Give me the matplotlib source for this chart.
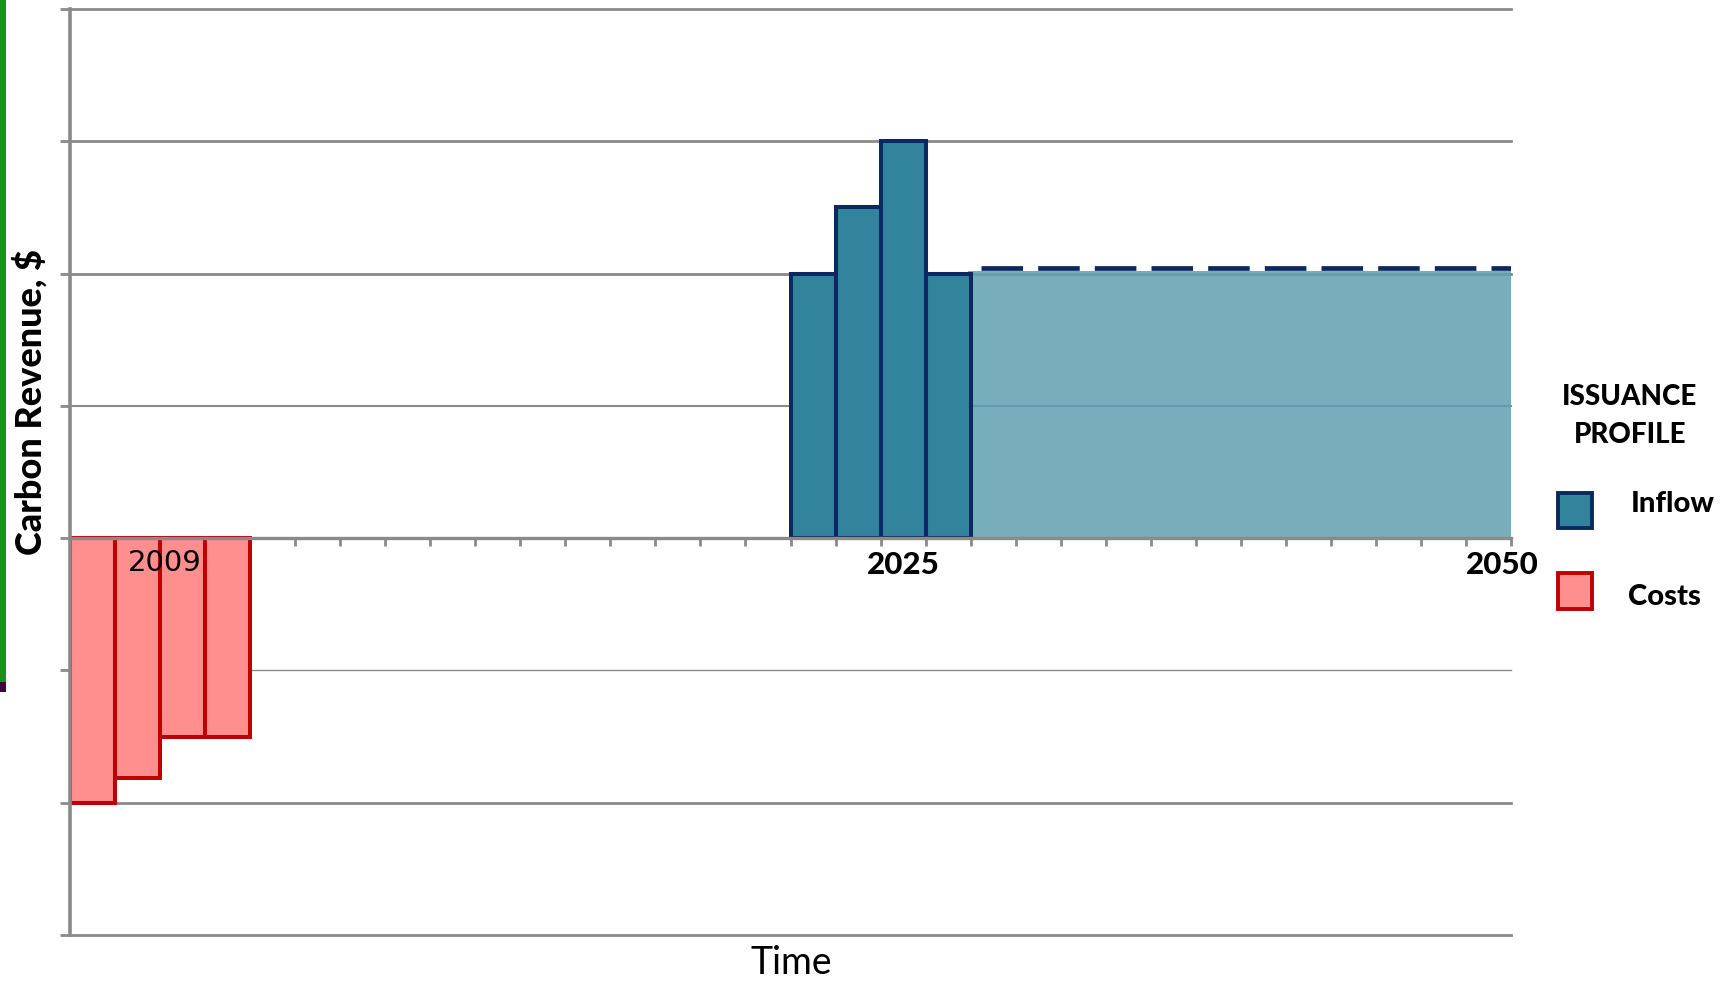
import matplotlib
matplotlib.use("Agg")
import matplotlib.pyplot as plt
from matplotlib.patches import Rectangle

# ---- data ----
n_slots = 32
cost_slots = [0, 1, 2, 3]
cost_values = [-2.0, -1.81, -1.5, -1.5]
inflow_slots = [16, 17, 18, 19]
inflow_values = [2.0, 2.5, 3.0, 2.0]
projection_start = 20
projection_end = 32
projection_value = 2.02
projection_line_value = 2.045
year_labels = ["2009", "2025", "2050"]
year_positions = [2.1, 18.5, 31.8]
y_grid = [-3, -2, -1, 1, 2, 3, 4]
y_grid_widths = [2.0, 2.0, 1.0, 1.5, 2.0, 2.0, 2.0]

GRAY = "#8A8A8A"
BLUE = "#31849B"
NAVY = "#0D2860"
SHADE = "#60A0B1"
RED_FILL = "#FF8F8F"
RED_EDGE = "#C00000"
BOLD = 900

fig = plt.figure(figsize=(17.33, 9.82), dpi=100)
ax = fig.add_axes([70 / 1733, 1 - 935 / 982, (1511 - 70) / 1733, (935 - 9) / 982])

ax.set_xlim(0, n_slots)
ax.set_ylim(-3, 4)

for yv, lw in zip(y_grid, y_grid_widths):
    ax.axhline(yv, color=GRAY, lw=lw, zorder=0.5, clip_on=False)

# projection area
ax.fill_between([projection_start - 0.05, projection_end], 0, projection_value,
                color=SHADE, alpha=0.85, lw=0, zorder=1)
ax.plot([projection_start + 0.22, projection_end], [projection_line_value] * 2,
        color=NAVY, lw=3.4, dashes=(8.8, 3.2), solid_capstyle="butt",
        dash_capstyle="butt", zorder=3)

ax.bar(cost_slots, cost_values, width=1, align="edge", color=RED_FILL,
       edgecolor=RED_EDGE, linewidth=2.9, zorder=2)
ax.bar(inflow_slots, inflow_values, width=1, align="edge", color=BLUE,
       edgecolor=NAVY, linewidth=2.9, zorder=2)

# axes styling
for s in ["top", "right"]:
    ax.spines[s].set_visible(False)
ax.spines["bottom"].set_position(("data", 0))
ax.spines["bottom"].set_color(GRAY)
ax.spines["bottom"].set_linewidth(2.4)
ax.spines["left"].set_color(GRAY)
ax.spines["left"].set_linewidth(2.6)
ax.set_xticks(range(0, n_slots + 1))
ax.set_xticklabels([])
ax.set_yticks(range(-3, 5))
ax.set_yticklabels([])
ax.tick_params(axis="x", direction="out", length=6, width=2.0, color=GRAY)
ax.tick_params(axis="y", direction="out", length=7, width=2.0, color=GRAY)

# year labels
ax.text(year_positions[0], -0.19, year_labels[0], ha="center", va="center",
        fontsize=21, family="DejaVu Sans", color="black", zorder=4)
for pos, lab in zip(year_positions[1:], year_labels[1:]):
    ax.text(pos, -0.2, lab, ha="center", va="center", fontsize=22.5,
            family="Lato", fontweight=BOLD, color="black", zorder=4)

# axis titles
fig.text(30 / 1733, 1 - 402 / 982, "Carbon Revenue, $", rotation=90,
         ha="center", va="center", fontsize=26, family="Lato",
         fontweight=BOLD)
fig.text(791 / 1733, 1 - 963 / 982, "Time", ha="center", va="center",
         fontsize=27, family="Lato")

# legend
fig.text(1630 / 1733, 1 - 397 / 982, "ISSUANCE", ha="center", va="center",
         fontsize=20, family="Lato", fontweight=BOLD)
fig.text(1630 / 1733, 1 - 435 / 982, "PROFILE", ha="center", va="center",
         fontsize=20, family="Lato", fontweight=BOLD)
fig.patches.append(Rectangle((1558 / 1733, 1 - 528 / 982), 34 / 1733, 35 / 982,
                             transform=fig.transFigure, facecolor=BLUE,
                             edgecolor=NAVY, linewidth=2.8))
fig.patches.append(Rectangle((1558 / 1733, 1 - 609 / 982), 34 / 1733, 36 / 982,
                             transform=fig.transFigure, facecolor=RED_FILL,
                             edgecolor=RED_EDGE, linewidth=2.8))
fig.text(1631 / 1733, 1 - 504 / 982, "Inflow", ha="left", va="center",
         fontsize=21, family="Lato", fontweight=BOLD)
fig.text(1628 / 1733, 1 - 597 / 982, "Costs", ha="left", va="center",
         fontsize=21, family="Lato", fontweight=BOLD)

# left edge decoration
fig.patches.append(Rectangle((0, 1 - 682 / 982), 6.5 / 1733, 682 / 982,
                             transform=fig.transFigure, facecolor="#149614",
                             edgecolor="none"))
fig.patches.append(Rectangle((0, 1 - 692 / 982), 6.5 / 1733, 10 / 982,
                             transform=fig.transFigure, facecolor="#3A0A3A",
                             edgecolor="none"))

fig.savefig("out.png", dpi=100)
